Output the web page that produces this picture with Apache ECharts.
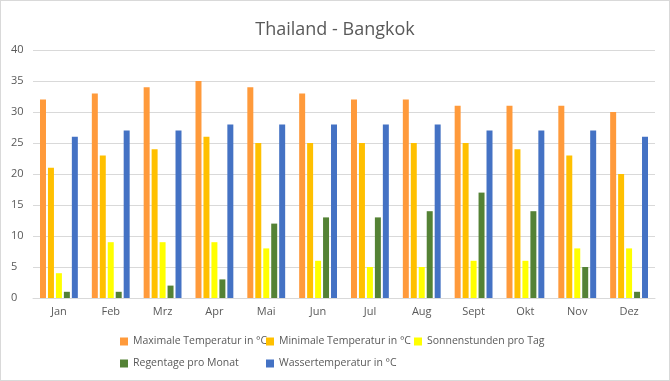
<!DOCTYPE html>
<html><head><meta charset="utf-8">
<script src="https://cdn.jsdelivr.net/npm/echarts@6/dist/echarts.min.js"></script>
<style>html,body{margin:0;padding:0;background:#fff}#c{width:670px;height:381px;box-sizing:border-box;border:1px solid #d9d9d9}</style>
</head><body><div id="c"></div>
<script>
const months = ['Jan','Feb','Mrz','Apr','Mai','Jun','Jul','Aug','Sept','Okt','Nov','Dez'];
const maxTemp = [32,33,34,35,34,33,32,32,31,31,31,30];
const minTemp = [21,23,24,26,25,25,25,25,25,24,23,20];
const sunHours = [4,9,9,9,8,6,5,5,6,6,8,8];
const rainDays = [1,1,2,3,12,13,13,14,17,14,5,1];
const waterTemp = [26,27,27,28,28,28,28,28,27,27,27,26];
const names = ['Maximale Temperatur in °C','Minimale Temperatur in °C','Sonnenstunden pro Tag','Regentage pro Monat','Wassertemperatur in °C'];
const colors = ['#FF9A3B','#FFC000','#FFFF00','#548235','#4472C4'];
const data = [maxTemp,minTemp,sunHours,rainDays,waterTemp];
const font = '"Open Sans", sans-serif';
const legendPos = [[119,335],[265,335],[413,335],[119,357],[265,357]];
const chart = echarts.init(document.getElementById('c'));
chart.setOption({
  animation: false,
  color: colors,
  title: {text: 'Thailand - Bangkok', left: 'center', top: 15,
    textStyle: {color:'#595959', fontSize: 18, fontWeight: 'normal', fontFamily: font}},
  legend: names.map((n,i)=>({
    left: legendPos[i][0], top: legendPos[i][1], padding: 0, itemWidth: 8, itemHeight: 8, icon: 'rect',
    data: [n], textStyle: {color:'#595959', fontSize: 10.5, fontFamily: font}
  })),
  grid: {left: 32, right: 14, top: 49, bottom: 82},
  xAxis: {type:'category', data: months,
    axisLine:{lineStyle:{color:'#d9d9d9'}}, axisTick:{show:false},
    axisLabel:{color:'#595959', fontSize: 11, fontFamily: font, margin: 8}},
  yAxis: {type:'value', min:0, max:40, interval:5,
    axisLabel:{color:'#595959', fontSize: 11, fontFamily: font, margin: 22, align:'left'},
    splitLine:{lineStyle:{color:'#d9d9d9'}}},
  series: data.map((d,i)=>({name:names[i], type:'bar', data:d, barGap:'33%', barCategoryGap:'27%'}))
});
</script></body></html>
